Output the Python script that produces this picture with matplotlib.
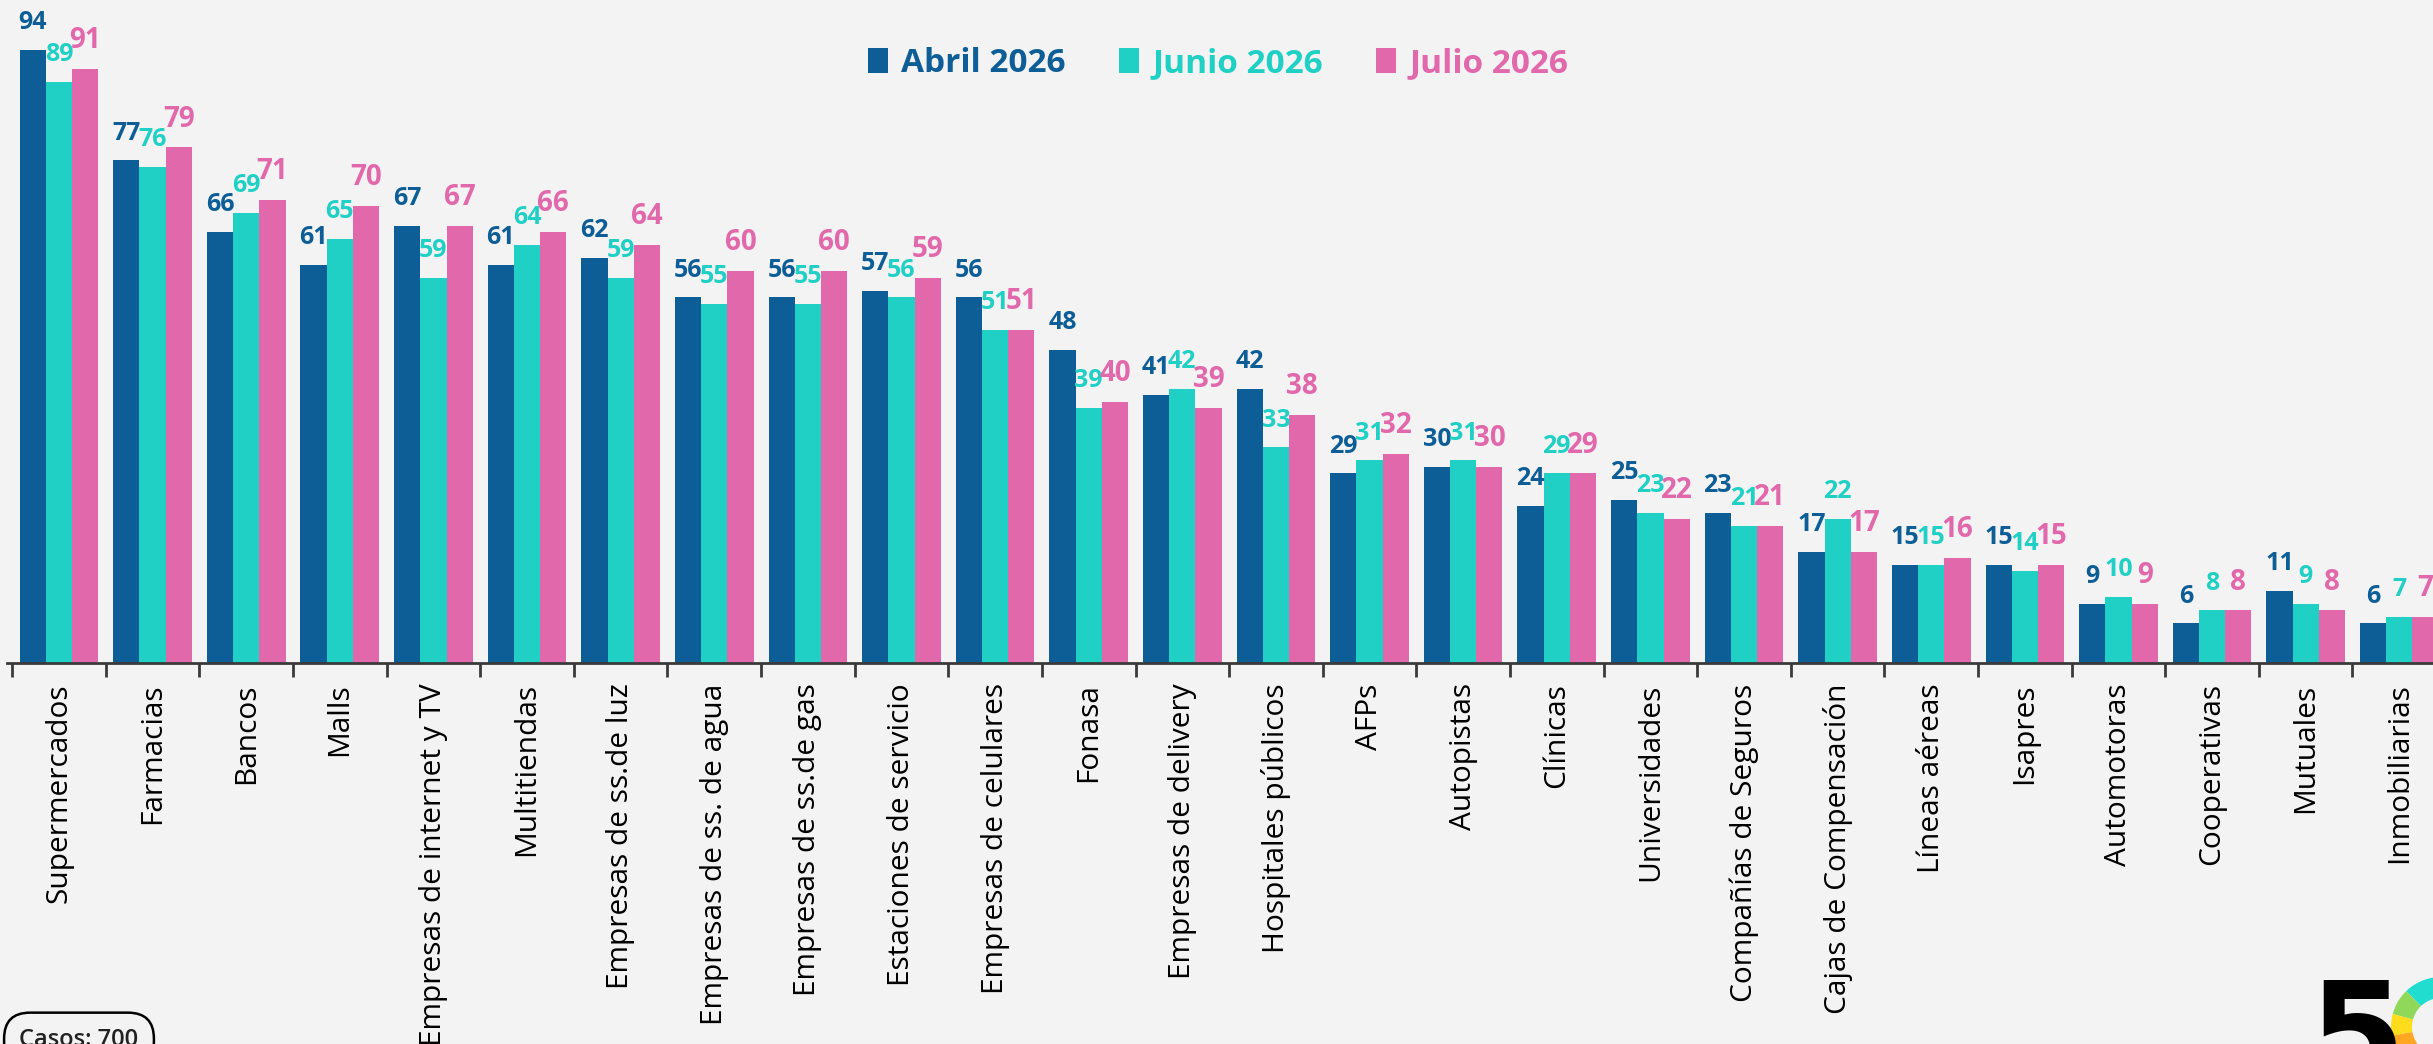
import numpy as np
import matplotlib.pyplot as plt
from matplotlib.patches import Patch, Wedge

# Datos
categorias = [
    "Supermercados", "Farmacias", "Bancos", "Malls", "Empresas de internet y TV",
    "Multitiendas", "Empresas de ss.de luz", "Empresas de ss. de agua",
    "Empresas de ss.de gas", "Estaciones de servicio", "Empresas de celulares",
    "Fonasa", "Empresas de delivery", "Hospitales públicos", "AFPs", "Autopistas",
    "Clínicas", "Universidades", "Compañías de Seguros", "Cajas de Compensación",
    "Líneas aéreas", "Isapres", "Automotoras", "Cooperativas", "Mutuales",
    "Inmobiliarias",
]
abril = [94, 77, 66, 61, 67, 61, 62, 56, 56, 57, 56, 48, 41, 42, 29, 30, 24, 25, 23, 17, 15, 15, 9, 6, 11, 6]
junio = [89, 76, 69, 65, 59, 64, 59, 55, 55, 56, 51, 39, 42, 33, 31, 31, 29, 23, 21, 22, 15, 14, 10, 8, 9, 7]
julio = [91, 79, 71, 70, 67, 66, 64, 60, 60, 59, 51, 40, 39, 38, 32, 30, 29, 22, 21, 17, 16, 15, 9, 8, 8, 7]
series = ["Abril 2026", "Junio 2026", "Julio 2026"]
colores = ["#0d5e96", "#21d0c5", "#e268ac"]
casos = "Casos: 700"

fondo = "#f4f3f3"
fuente = ["Open Sans", "DejaVu Sans"]
plt.rcParams["font.family"] = fuente

fig = plt.figure(figsize=(24.33, 10.44), dpi=100, facecolor=fondo)
ax = fig.add_axes([0, 0, 1, 1])
ax.set_facecolor(fondo)

x = np.arange(len(categorias))
ancho = 0.28
tam_num = [18, 18, 20]
for k, (vals, nombre, col) in enumerate(zip([abril, junio, julio], series, colores)):
    pos = x + (k - 1) * ancho
    ax.bar(pos, vals, width=ancho, color=col, linewidth=0, label=nombre, zorder=2)
    for xi, v in zip(pos, vals):
        ax.annotate(str(v), (xi, v), xytext=(0, 15), textcoords="offset points",
                    ha="center", va="baseline", color=col, fontsize=tam_num[k],
                    fontweight="bold")

ax.set_xlim(-0.63, 25.36)
ax.set_ylim(-58.5, 101.6)

for s in ["left", "right", "top"]:
    ax.spines[s].set_visible(False)
ax.spines["bottom"].set_position(("data", 0))
ax.spines["bottom"].set_bounds(-0.55, 25.5)
ax.spines["bottom"].set_color("#3a3a3a")
ax.spines["bottom"].set_linewidth(2)
ax.set_yticks([])

# ticks entre grupos, etiquetas al centro
ax.set_xticks(np.arange(-0.5, 25.0, 1.0))
ax.set_xticklabels([])
ax.tick_params(axis="x", which="major", length=10, width=2, color="#3a3a3a")
ax.set_xticks(x, minor=True)
ax.set_xticklabels(categorias, minor=True, rotation=90, fontsize=21.5, va="top")
ax.tick_params(axis="x", which="minor", length=0, pad=15)

handles = [Patch(facecolor=c, edgecolor="none") for c in colores]
ax.legend(handles, series, loc="center", bbox_to_anchor=(0.5006, 0.939),
          bbox_transform=fig.transFigure, ncol=3, frameon=False,
          prop={"family": fuente, "weight": "bold", "size": 24},
          labelcolor=colores, handlelength=0.6, handleheight=0.75,
          handletextpad=0.4, columnspacing=1.6)

# caja de casos
fig.text(79 / 2433, 1 - 1028 / 1044, casos, ha="center", va="top", fontsize=17,
         fontweight="semibold", color="#222222",
         bbox=dict(boxstyle="round,pad=0.65,rounding_size=1.1", fc="none",
                   ec="black", lw=1.8))

# logo
lx = fig.add_axes([0, 0, 1, 1], facecolor="none")
lx.set_xlim(0, 2433)
lx.set_ylim(0, 1044)
lx.axis("off")
lx.text(2357, 1044 - 975, "5", ha="center", va="top", fontsize=100,
        fontweight="bold", color="black", family=["Liberation Sans Narrow", "DejaVu Sans"])
cx, cy, r = 2441, 1044 - 1027, 50
for a1, a2, c in [(40, 134, "#20ddd0"), (134, 165, "#90d85a"),
                  (165, 190, "#ffdc1c"), (190, 235, "#ffa723")]:
    lx.add_patch(Wedge((cx, cy), r, a1, a2, width=21, color=c, lw=0))

fig.savefig("out.png", dpi=100, facecolor=fondo)
